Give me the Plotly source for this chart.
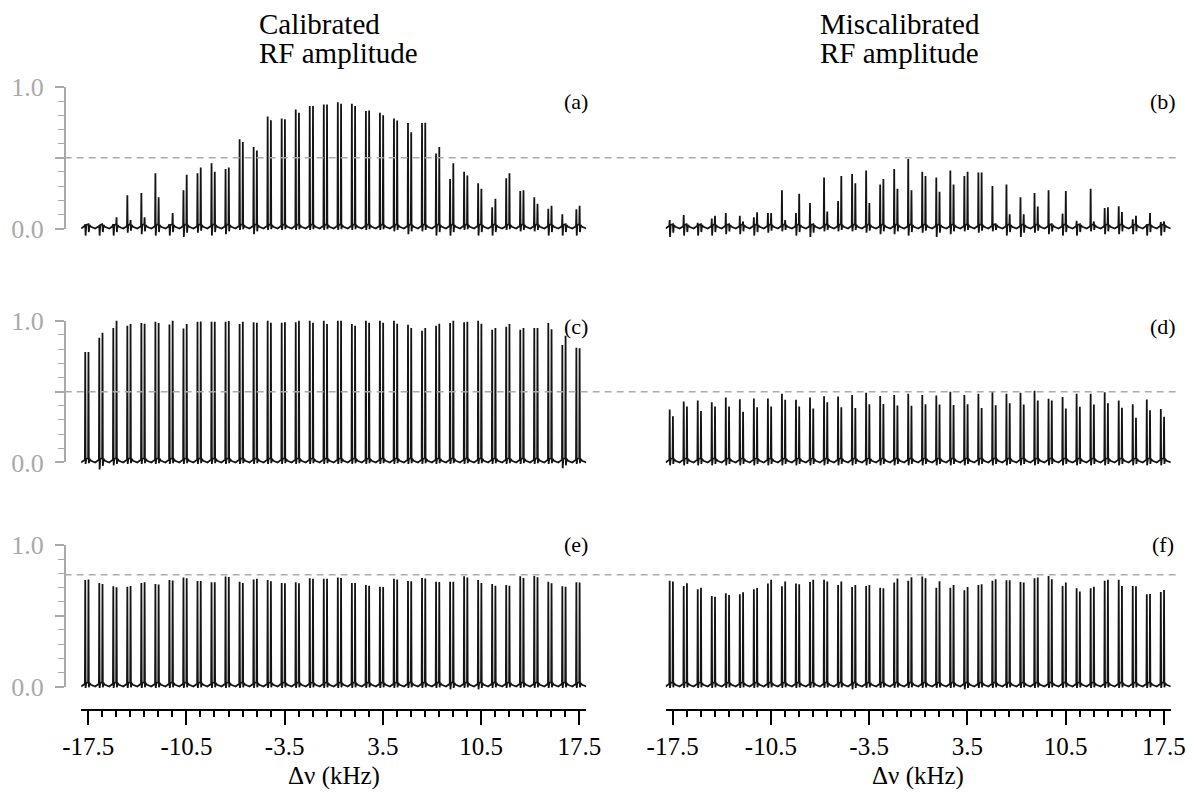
import plotly.graph_objects as go

# ---------------------------------------------------------------- data
# Nominal positions of the 36 doublets (kHz)
freq = [-17.5, -16.5, -15.5, -14.5, -13.5, -12.5, -11.5, -10.5, -9.5, -8.5,
        -7.5, -6.5, -5.5, -4.5, -3.5, -2.5, -1.5, -0.5, 0.5, 1.5,
        2.5, 3.5, 4.5, 5.5, 6.5, 7.5, 8.5, 9.5, 10.5, 11.5,
        12.5, 13.5, 14.5, 15.5, 16.5, 17.5]

# (a) calibrated RF amplitude, first row: first / second line of each doublet
a_line1 = [0.03, 0.02, 0.03, 0.235, 0.25, 0.39, 0.03, 0.27, 0.39, 0.46,
           0.42, 0.63, 0.575, 0.79, 0.777, 0.84, 0.864, 0.876, 0.892, 0.88,
           0.83, 0.817, 0.777, 0.744, 0.744, 0.53, 0.35, 0.40, 0.32, 0.15,
           0.355, 0.265, 0.22, 0.14, 0.10, 0.136]
a_line2 = [0.03, 0.02, 0.08, 0.06, 0.08, 0.22, 0.11, 0.38, 0.43, 0.40,
           0.43, 0.61, 0.55, 0.765, 0.772, 0.817, 0.864, 0.876, 0.88, 0.864,
           0.833, 0.80, 0.763, 0.68, 0.746, 0.575, 0.46, 0.375, 0.28, 0.21,
           0.39, 0.27, 0.175, 0.16, 0.03, 0.16]
a_dip = [-0.05, -0.05, -0.05, -0.03, -0.04, -0.05, -0.05, -0.06, -0.03, -0.05,
         -0.04, -0.01, -0.04, -0.01, -0.01, -0.01, -0.01, -0.01, -0.01, -0.01,
         -0.01, -0.01, -0.02, -0.04, -0.02, -0.05, -0.05, -0.01, -0.05, -0.05,
         -0.01, -0.02, -0.02, -0.05, -0.05, -0.05]

# (b) miscalibrated RF amplitude, first row
b_line1 = [0.06, 0.095, 0.04, 0.07, 0.11, 0.09, 0.08, 0.11, 0.27, 0.11,
           0.18, 0.36, 0.195, 0.385, 0.41, 0.31, 0.42, 0.49, 0.40, 0.36,
           0.41, 0.37, 0.395, 0.30, 0.31, 0.22, 0.25, 0.27, 0.105, 0.055,
           0.28, 0.145, 0.157, 0.065, 0.03, 0.045]
b_line2 = [0.03, 0.02, 0.03, 0.09, 0.03, 0.05, 0.115, 0.11, 0.06, 0.245,
           0.03, 0.12, 0.37, 0.32, 0.18, 0.35, 0.28, 0.27, 0.37, 0.26,
           0.31, 0.40, 0.395, 0.03, 0.10, 0.10, 0.155, 0.03, 0.265, 0.03,
           0.05, 0.15, 0.117, 0.09, 0.11, 0.05]
b_dip = [-0.06, -0.05, -0.05, -0.05, -0.04, -0.04, -0.05, -0.03, -0.02, -0.05,
         -0.06, -0.02, -0.02, -0.02, -0.03, -0.04, -0.04, -0.05, -0.03, -0.06,
         -0.04, -0.02, -0.03, -0.02, -0.05, -0.06, -0.03, -0.04, -0.05, -0.05,
         -0.02, -0.04, -0.04, -0.04, -0.05, -0.05]

# (c) calibrated, second row
c_line1 = [0.78, 0.88, 0.95, 0.965, 0.984, 0.993, 0.974, 0.946, 0.993, 0.993,
           0.993, 0.977, 0.99, 1.0, 0.986, 0.99, 1.0, 1.0, 1.0, 0.977,
           1.0, 1.0, 1.0, 0.972, 0.93, 0.965, 0.984, 0.99, 1.0, 0.937,
           0.958, 0.937, 0.95, 0.984, 0.83, 0.81]
c_line2 = [0.78, 0.915, 1.0, 0.977, 0.98, 0.984, 1.0, 0.977, 0.995, 0.993,
           0.998, 0.993, 0.986, 0.986, 0.99, 1.0, 0.986, 0.977, 1.0, 0.965,
           0.986, 0.986, 0.98, 0.95, 0.95, 0.98, 1.0, 0.993, 0.98, 0.95,
           0.977, 0.95, 0.95, 0.94, 0.895, 0.806]
c_dip = [-0.01, -0.05, -0.02, -0.01, -0.01, -0.01, -0.01, -0.01, -0.01, -0.01,
         -0.01, -0.01, -0.01, -0.01, -0.01, -0.01, -0.01, -0.01, -0.01, -0.01,
         -0.01, -0.01, -0.01, -0.01, -0.01, -0.01, -0.01, -0.01, -0.01, -0.01,
         -0.01, -0.01, -0.01, -0.01, -0.04, -0.01]

# (d) miscalibrated, second row
d_line1 = [0.374, 0.43, 0.438, 0.425, 0.459, 0.447, 0.452, 0.452, 0.486, 0.443,
           0.459, 0.468, 0.466, 0.477, 0.493, 0.47, 0.477, 0.486, 0.477, 0.473,
           0.50, 0.477, 0.486, 0.50, 0.486, 0.493, 0.507, 0.45, 0.463, 0.486,
           0.486, 0.495, 0.438, 0.411, 0.445, 0.377]
d_line2 = [0.326, 0.395, 0.363, 0.395, 0.395, 0.358, 0.39, 0.395, 0.443, 0.395,
           0.381, 0.425, 0.39, 0.384, 0.411, 0.413, 0.402, 0.40, 0.411, 0.409,
           0.406, 0.411, 0.384, 0.404, 0.418, 0.409, 0.438, 0.438, 0.381, 0.393,
           0.409, 0.418, 0.386, 0.315, 0.368, 0.322]
d_dip = [-0.02, -0.02, -0.02, -0.02, -0.02, -0.02, -0.02, -0.02, -0.02, -0.02,
         -0.02, -0.02, -0.02, -0.02, -0.02, -0.02, -0.02, -0.02, -0.02, -0.02,
         -0.02, -0.02, -0.02, -0.02, -0.02, -0.02, -0.02, -0.02, -0.02, -0.02,
         -0.02, -0.02, -0.02, -0.02, -0.02, -0.02]

# (e) calibrated, third row
e_line1 = [0.752, 0.73, 0.708, 0.705, 0.73, 0.724, 0.752, 0.77, 0.745, 0.736,
           0.776, 0.74, 0.755, 0.752, 0.73, 0.736, 0.764, 0.76, 0.77, 0.73,
           0.717, 0.705, 0.76, 0.745, 0.766, 0.74, 0.74, 0.778, 0.752, 0.724,
           0.717, 0.778, 0.78, 0.74, 0.708, 0.736]
e_line2 = [0.755, 0.724, 0.70, 0.71, 0.736, 0.72, 0.748, 0.764, 0.745, 0.736,
           0.773, 0.73, 0.76, 0.743, 0.729, 0.729, 0.76, 0.76, 0.766, 0.73,
           0.712, 0.703, 0.755, 0.743, 0.762, 0.738, 0.74, 0.769, 0.73, 0.712,
           0.712, 0.766, 0.771, 0.729, 0.705, 0.734]
e_dip = [-0.01, -0.01, -0.01, -0.01, -0.01, -0.01, -0.01, -0.01, -0.01, -0.01,
         -0.01, -0.01, -0.01, -0.01, -0.01, -0.01, -0.01, -0.01, -0.01, -0.01,
         -0.01, -0.01, -0.01, -0.01, -0.01, -0.01, -0.02, -0.01, -0.02, -0.01,
         -0.01, -0.01, -0.01, -0.01, -0.01, -0.01]

# (f) miscalibrated, third row
f_line1 = [0.746, 0.71, 0.686, 0.639, 0.658, 0.651, 0.686, 0.727, 0.708, 0.727,
           0.738, 0.753, 0.717, 0.703, 0.71, 0.698, 0.734, 0.746, 0.776, 0.698,
           0.698, 0.679, 0.717, 0.746, 0.75, 0.738, 0.764, 0.781, 0.71, 0.693,
           0.693, 0.746, 0.753, 0.71, 0.651, 0.667]
f_line2 = [0.741, 0.729, 0.698, 0.634, 0.646, 0.665, 0.696, 0.753, 0.741, 0.722,
           0.753, 0.741, 0.741, 0.717, 0.717, 0.693, 0.762, 0.772, 0.764, 0.743,
           0.717, 0.703, 0.722, 0.757, 0.75, 0.734, 0.769, 0.757, 0.734, 0.67,
           0.705, 0.753, 0.71, 0.708, 0.653, 0.682]
f_dip = [-0.01, -0.01, -0.01, -0.01, -0.01, -0.01, -0.01, -0.01, -0.01, -0.01,
         -0.01, -0.01, -0.01, -0.02, -0.01, -0.01, -0.01, -0.01, -0.01, -0.01,
         -0.01, -0.02, -0.01, -0.01, -0.01, -0.01, -0.01, -0.01, -0.01, -0.01,
         -0.01, -0.01, -0.01, -0.01, -0.01, -0.01]

# reference levels (dashed lines) per row
ref_levels = [0.5, 0.5, 0.79]

major_ticks = [-17.5, -10.5, -3.5, 3.5, 10.5, 17.5]
major_text = ["-17.5", "-10.5", "-3.5", "3.5", "10.5", "17.5"]
col_titles = [("Calibrated", "RF amplitude"), ("Miscalibrated", "RF amplitude")]
panel_tags = ["(a)", "(b)", "(c)", "(d)", "(e)", "(f)"]

# ---------------------------------------------------------------- geometry
W, H = 1192, 798
SERIF = "Liberation Serif"
GREY = "#a9a9a9"


def fx(px):
    return px / W


def fy(py):
    return 1 - py / H


UNIT = 147.0                       # pixels per unit of amplitude
ZERO_PX = [222.6, 465.4, 697.9]    # pixel row of amplitude 0 in each row
Y_LO, Y_HI = -0.156, 1.05
COL_PX = [(64.0, 584.0), (665.6, 1185.6)]
X_RANGE = [-18, 18]
YAXIS_PX = 47.0


def spectrum(h1, h2, dip):
    """Polyline of a doublet spectrum built from the line amplitudes."""
    xs, ys = [], []
    for f, p, q, d in zip(freq, h1, h2, dip):
        pts = [(f - 0.5, 0.0), (f - 0.30, 0.012), (f - 0.235, 0.02),
               (f - 0.21, p), (f - 0.185, d), (f - 0.14, 0.025),
               (f - 0.005, 0.03), (f + 0.02, q), (f + 0.045, d * 0.5),
               (f + 0.09, 0.025), (f + 0.2, 0.012)]
        for x, y in pts:
            xs.append(x)
            ys.append(y)
    xs.append(freq[-1] + 0.5)
    ys.append(0.0)
    return xs, ys


panels = [(a_line1, a_line2, a_dip), (b_line1, b_line2, b_dip),
          (c_line1, c_line2, c_dip), (d_line1, d_line2, d_dip),
          (e_line1, e_line2, e_dip), (f_line1, f_line2, f_dip)]

fig = go.Figure()
layout = dict(
    width=W, height=H, margin=dict(l=0, r=0, t=0, b=0),
    paper_bgcolor="white", plot_bgcolor="rgba(0,0,0,0)", showlegend=False,
    font=dict(family=SERIF, color="black"),
)

for i, (h1, h2, dp) in enumerate(panels):
    row, col = divmod(i, 2)
    n = i + 1
    xs, ys = spectrum(h1, h2, dp)
    fig.add_trace(go.Scatter(
        x=xs, y=ys, mode="lines", xaxis=f"x{n}", yaxis=f"y{n}",
        line=dict(color="#141414", width=1.8), hoverinfo="skip"))

    z = ZERO_PX[row]
    bottom = z - Y_LO * UNIT
    top = z - Y_HI * UNIT
    xdom = [fx(COL_PX[col][0]), fx(COL_PX[col][1])]
    ydom = [fy(bottom), fy(top)]
    key = "" if n == 1 else str(n)
    bottom_row = row == 2
    layout[f"xaxis{key}"] = dict(
        domain=xdom, range=X_RANGE, anchor=f"y{n}", showgrid=False,
        zeroline=False, visible=bottom_row,
        showline=True, linecolor="black", linewidth=2,
        ticks="outside", tickvals=major_ticks, ticktext=major_text,
        ticklen=14, tickwidth=2, tickcolor="black",
        tickfont=dict(family=SERIF, size=25, color="black"),
        minor=dict(ticks="outside", tick0=-17.5, dtick=1, ticklen=6,
                   tickwidth=1.6, tickcolor="black", showgrid=False),
    )
    layout[f"yaxis{key}"] = dict(
        domain=ydom, range=[Y_LO, Y_HI], anchor=f"x{n}",
        visible=False, showgrid=False, zeroline=False)

# amplitude scale on the left of each row (0 to 1 only), each on its own
# hidden x axis so the spectra subplots are left untouched
for row in range(3):
    n = 7 + row
    z = ZERO_PX[row]
    fig.add_trace(go.Scatter(x=[None], y=[None], xaxis=f"x{n}",
                             yaxis=f"y{n}", mode="lines", hoverinfo="skip"))
    layout[f"xaxis{n}"] = dict(
        domain=[fx(YAXIS_PX), fx(YAXIS_PX + 2)], range=[0, 1],
        anchor=f"y{n}", visible=False, showgrid=False, zeroline=False)
    layout[f"yaxis{n}"] = dict(
        domain=[fy(z), fy(z - UNIT)], range=[0, 1], anchor="free",
        position=fx(YAXIS_PX), side="left", showgrid=False, zeroline=False,
        showline=True, linecolor=GREY, linewidth=1.6,
        ticks="outside", tickvals=[0, 0.5, 1], ticktext=["0.0", "", "1.0"],
        ticklen=9, tickwidth=1.6, tickcolor=GREY, ticklabelstandoff=6,
        tickfont=dict(family=SERIF, size=26, color=GREY),
        minor=dict(ticks="outside", dtick=0.1, ticklen=6, tickwidth=1.4,
                   tickcolor=GREY, showgrid=False),
    )

# dashed reference level across both columns
shapes = []
for row, lvl in enumerate(ref_levels):
    yref = "y" if row == 0 else f"y{2 * row + 1}"
    shapes.append(dict(type="line", xref="paper", yref=yref,
                       x0=fx(YAXIS_PX), x1=1, y0=lvl, y1=lvl,
                       line=dict(color="#ababab", width=1.5, dash="7px,5px")))
layout["shapes"] = shapes

annotations = []
# column headers
for col, (l1, l2) in enumerate(col_titles):
    left = [245, 822][col]
    for text, ypx in ((l1, 10), (l2, 40)):
        annotations.append(dict(
            text=text, x=fx(left), y=fy(ypx), xref="paper", yref="paper",
            xanchor="left", yanchor="middle", showarrow=False,
            font=dict(family=SERIF, size=29, color="black")))
# panel tags
tag_y = [91, 324, 551]
for i, tag in enumerate(panel_tags):
    row, col = divmod(i, 2)
    annotations.append(dict(
        text=tag, x=fx([573, 1178][col]), y=fy(tag_y[row]),
        xref="paper", yref="paper", xanchor="center", yanchor="middle",
        showarrow=False, font=dict(family=SERIF, size=22, color="black")))
# frequency axis titles
for col in range(2):
    cx = (COL_PX[col][0] + COL_PX[col][1]) / 2
    annotations.append(dict(
        text="Δν (kHz)", x=fx(cx), y=fy(791), xref="paper", yref="paper",
        xanchor="center", yanchor="middle", showarrow=False,
        font=dict(family=SERIF, size=25, color="black")))
layout["annotations"] = annotations

fig.update_layout(**layout)
fig.write_html("out.html")
